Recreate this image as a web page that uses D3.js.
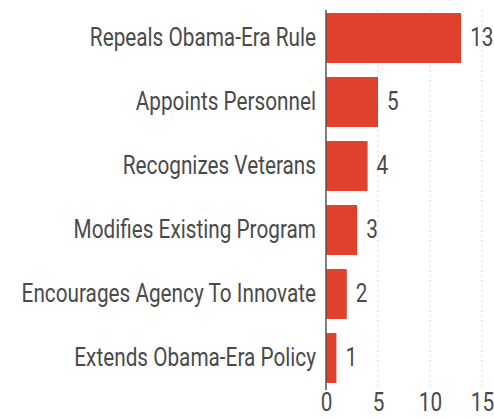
<!DOCTYPE html>
<html>
<head>
<meta charset="utf-8">
<script src="https://cdn.jsdelivr.net/npm/d3@7"></script>
<style>
  html, body { margin: 0; padding: 0; background: #fff; }
  svg { display: block; }
  text { font-family: Roboto, "DejaVu Sans Condensed", sans-serif; fill: #4a4a4a; }
</style>
</head>
<body>
<svg id="chart" width="494" height="419"></svg>
<script>
// Actions by category
const categories = [
  "Repeals Obama-Era Rule",
  "Appoints Personnel",
  "Recognizes Veterans",
  "Modifies Existing Program",
  "Encourages Agency To Innovate",
  "Extends Obama-Era Policy"
];
const counts = [13, 5, 4, 3, 2, 1];
const xTicks = [0, 5, 10, 15];

const svg = d3.select("#chart");
const margin = { top: 6, right: 12, bottom: 29, left: 326 };
const width = 494, height = 419;
const fontSize = 25;
const condense = 0.83; // horizontal squeeze for a condensed look

// squeeze text horizontally while keeping its anchor point in place
function condensed(sel) {
  sel.each(function () {
    const t = d3.select(this);
    const x0 = +t.attr("x") || 0;
    t.attr("x", x0 / condense).attr("transform", `scale(${condense},1)`);
  });
}

const x = d3.scaleLinear()
  .domain([0, 15])
  .range([margin.left, width - margin.right]);

const y = d3.scaleBand()
  .domain(categories)
  .range([margin.top, height - margin.bottom])
  .paddingInner(0.22)
  .paddingOuter(0.11);

const data = categories.map((c, i) => ({ category: c, value: counts[i] }));

// dotted gridlines
svg.append("g")
  .selectAll("line")
  .data(xTicks.filter(t => t > 0))
  .join("line")
  .attr("x1", d => x(d)).attr("x2", d => x(d))
  .attr("y1", margin.top + 4).attr("y2", height - margin.bottom)
  .attr("stroke", "#d6d6d6")
  .attr("stroke-width", 1)
  .attr("stroke-dasharray", "2,3");

// bars
svg.append("g")
  .selectAll("rect")
  .data(data)
  .join("rect")
  .attr("x", x(0))
  .attr("y", d => y(d.category))
  .attr("width", d => x(d.value) - x(0))
  .attr("height", y.bandwidth())
  .attr("fill", "#e0412c");

// value labels
svg.append("g")
  .selectAll("text")
  .data(data)
  .join("text")
  .attr("x", d => x(d.value) + 9)
  .attr("y", d => y(d.category) + y.bandwidth() / 2)
  .attr("dy", "0.34em")
  .attr("font-size", fontSize)
  .text(d => d.value)
  .call(condensed);

// category axis
const yAxis = svg.append("g")
  .attr("transform", `translate(${x(0)},0)`)
  .call(d3.axisLeft(y).tickSize(0).tickPadding(10));
yAxis.select(".domain")
  .attr("d", `M0,${margin.top + 4}V${height - margin.bottom}`)
  .attr("stroke", "#555")
  .attr("stroke-width", 1.5);
yAxis.selectAll("text")
  .attr("font-size", fontSize)
  .attr("fill", "#4a4a4a")
  .call(condensed);

// value axis
const xAxis = svg.append("g")
  .attr("transform", `translate(0,${height - margin.bottom})`)
  .call(d3.axisBottom(x).tickValues(xTicks).tickSize(0).tickPadding(3));
xAxis.select(".domain").remove();
xAxis.selectAll("text")
  .attr("font-size", fontSize)
  .attr("fill", "#4a4a4a")
  .attr("dy", "0.71em")
  .call(condensed);
svg.selectAll("text").style("font-family", null);
</script>
</body>
</html>
